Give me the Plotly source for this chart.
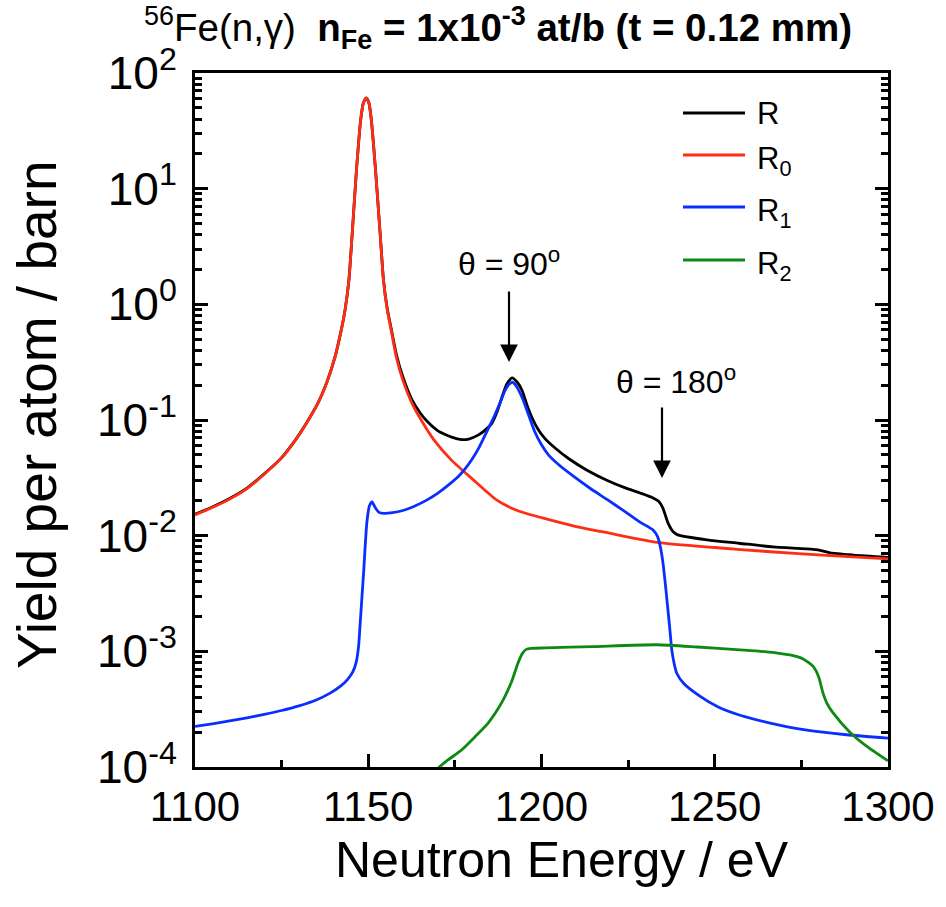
import plotly.graph_objects as go

# ---------------- data ----------------
E_R0 = [1100, 1105, 1110, 1115, 1120, 1125, 1129, 1132, 1135.5, 1138, 1140.4, 1142, 1143.3,
        1144.4, 1145.3, 1146.6, 1147.8, 1148.6, 1149.4, 1150.2, 1150.9, 1152.1, 1153.5,
        1154.4, 1155.5, 1156.8, 1158.1, 1160, 1162.6, 1166, 1169, 1174, 1180, 1187, 1193,
        1200, 1210, 1219, 1234, 1250, 1265, 1281, 1300]
Y_R0 = [0.0151, 0.0175, 0.0207, 0.0255, 0.034, 0.047, 0.067, 0.092, 0.14, 0.21, 0.35, 0.56, 0.89,
        1.6, 3.8, 14.5, 39, 55, 61, 55, 39, 14.5, 3.8,
        1.6, 0.89, 0.56, 0.35, 0.22, 0.14, 0.092, 0.067, 0.045, 0.031, 0.0204, 0.0165,
        0.0143, 0.012, 0.0106, 0.0087, 0.0079, 0.0073, 0.0068, 0.0063]

E_R = [1100, 1105, 1110, 1115, 1120, 1125, 1129, 1132, 1135.5, 1138, 1140.4, 1142, 1143.3,
       1144.4, 1145.3, 1146.6, 1147.8, 1148.6, 1149.4, 1150.2, 1150.9, 1152.1, 1153.5,
       1154.4, 1155.5, 1156.8, 1158.1, 1160, 1162.6, 1165, 1167.2, 1170, 1172.2, 1174.5,
       1176.5, 1179, 1181.7, 1184, 1185.7, 1187.3, 1188.6, 1190, 1191.5, 1193, 1194.4,
       1195.8, 1197.3, 1199, 1201, 1204, 1208, 1213, 1219, 1224, 1228.4, 1232.2, 1233.8,
       1235, 1236.5, 1238, 1239.5, 1247.8, 1257, 1266.8, 1278.4, 1281, 1283.3, 1290, 1300]
Y_R = [0.0153, 0.0177, 0.021, 0.0258, 0.0343, 0.0473, 0.0673, 0.0923, 0.1403, 0.2103, 0.3505, 0.5606, 0.891,
       1.6, 3.8, 14.5, 39, 55, 61, 55, 39, 14.52, 3.82,
       1.62, 0.91, 0.58, 0.37, 0.235, 0.15, 0.115, 0.096, 0.081, 0.075, 0.0705,
       0.068, 0.0685, 0.074, 0.083, 0.094, 0.12, 0.158, 0.205, 0.231, 0.212, 0.18,
       0.135, 0.104, 0.083, 0.069, 0.057, 0.046, 0.037, 0.030, 0.026, 0.0234, 0.0212, 0.0198,
       0.0174, 0.0129, 0.0108, 0.0101, 0.0092, 0.0086, 0.0080, 0.0076, 0.0074, 0.0071, 0.0068, 0.0065]

E_R1 = [1100, 1105, 1110, 1115, 1120, 1125, 1130, 1135, 1139, 1142, 1144, 1145.5, 1146.5, 1147.2, 1147.7,
        1148.2, 1148.7, 1149.1, 1149.6, 1150.3, 1151.1, 1152, 1153, 1154.5, 1157, 1160, 1163,
        1167, 1170, 1173, 1176, 1178, 1180, 1182, 1184, 1186.5, 1188, 1189.5, 1190.6, 1191.6, 1192.8,
        1194.7, 1196.3, 1198, 1200, 1202, 1205, 1209, 1214, 1219, 1224, 1228.4, 1232.2,
        1233.5, 1234.3, 1235, 1235.6, 1236.3, 1237, 1237.6, 1238.3, 1239, 1241, 1245.7, 1251,
        1257.3, 1266, 1276.6, 1288, 1300]
Y_R1 = [2.24e-4, 2.36e-4, 2.5e-4, 2.66e-4, 2.85e-4, 3.08e-4, 3.38e-4, 3.8e-4, 4.35e-4, 5.0e-4, 5.7e-4, 6.6e-4, 8e-4, 1.1e-3, 1.8e-3,
        3e-3, 5e-3, 8e-3, 1.3e-2, 1.8e-2, 0.0196, 0.0175, 0.016, 0.0156, 0.0158, 0.0165, 0.0178,
        0.0204, 0.0232, 0.0272, 0.0325, 0.038, 0.046, 0.058, 0.077, 0.11, 0.14, 0.18, 0.203, 0.212, 0.195,
        0.149, 0.11, 0.08, 0.061, 0.05, 0.041, 0.033, 0.0257, 0.0205, 0.0162, 0.0131, 0.0112,
        0.0098, 0.008, 0.006, 0.0042, 2.6e-3, 1.6e-3, 1.03e-3, 7.8e-4, 6.5e-4, 5.3e-4, 4.1e-4, 3.3e-4,
        2.8e-4, 2.4e-4, 2.08e-4, 1.9e-4, 1.78e-4]

E_R2 = [1168, 1170.5, 1173, 1177, 1181, 1184.6, 1187.5, 1189.5, 1191.5, 1193.2, 1194.5, 1195.6,
        1197, 1201, 1215, 1233.3, 1245, 1257.3, 1265, 1271.7, 1275.5, 1278.4, 1280, 1281.2,
        1282.5, 1284.1, 1289, 1294, 1300]
Y_R2 = [8.5e-5, 1.0e-4, 1.15e-4, 1.41e-4, 1.85e-4, 2.4e-4, 3.2e-4, 4.1e-4, 5.6e-4, 7.9e-4, 9.6e-4, 1.04e-3,
        1.06e-3, 1.07e-3, 1.1e-3, 1.14e-3, 1.09e-3, 1.03e-3, 9.9e-4, 9.3e-4, 8.6e-4, 7.4e-4, 6e-4, 4.4e-4,
        3.5e-4, 2.95e-4, 2.0e-4, 1.5e-4, 1.13e-4]

SERIES_NAMES = ["R", "R<sub>0</sub>", "R<sub>1</sub>", "R<sub>2</sub>"]
SERIES_COLORS = ["#000000", "#FF2D16", "#0A2EFF", "#0E8A12"]

X_TICKS = [1100, 1150, 1200, 1250, 1300]
Y_TICK_EXP = [-4, -3, -2, -1, 0, 1, 2]

# ---------------- figure ----------------
FONT = "Liberation Sans, Arial, sans-serif"

fig = go.Figure()
for xs, ys, name, col in zip([E_R, E_R0, E_R1, E_R2], [Y_R, Y_R0, Y_R1, Y_R2], SERIES_NAMES, SERIES_COLORS):
    fig.add_trace(go.Scatter(x=xs, y=ys, mode="lines", name=name,
                             line=dict(color=col, width=2.8, shape="spline", smoothing=0.6),
                             showlegend=False))

minor_y = [m * 10.0 ** e for e in Y_TICK_EXP[:-1] for m in range(2, 10)]

L, R, T, B = 195, 58, 73, 140
W, H = 946, 907
pw, ph = W - L - R, H - T - B

def px(xp):
    return (xp - L) / pw

def py(yp):
    return (H - B - yp) / ph

fig.update_layout(
    width=W, height=H,
    margin=dict(l=L, r=R, t=T, b=B),
    paper_bgcolor="white", plot_bgcolor="white",
    font=dict(family=FONT, color="black"),
    showlegend=False,
    xaxis=dict(range=[1100, 1300], showgrid=False, zeroline=False,
               showline=True, linecolor="black", linewidth=3, mirror=True,
               ticks="inside", ticklen=13, tickwidth=3, tickcolor="black",
               tickvals=X_TICKS, ticktext=[str(v) for v in X_TICKS],
               tickfont=dict(size=42, family=FONT),
               ticklabelstandoff=1,
               minor=dict(ticks="inside", ticklen=7, tickwidth=3, tickcolor="black",
                          dtick=25, showgrid=False)),
    yaxis=dict(type="log", range=[-4, 2], showgrid=False, zeroline=False,
               showline=True, linecolor="black", linewidth=3, mirror="ticks",
               ticks="inside", ticklen=13, tickwidth=3, tickcolor="black",
               tickvals=[10.0 ** e for e in Y_TICK_EXP],
               ticktext=["10<sup>%d</sup>" % e for e in Y_TICK_EXP],
               tickfont=dict(size=46, family=FONT),
               ticklabelstandoff=6,
               minor=dict(ticks="inside", ticklen=7, tickwidth=2.5, tickcolor="black",
                          tickvals=minor_y, showgrid=False)),
)

ann = []
# title
ann.append(dict(xref="paper", yref="paper", x=px(498), y=py(28), xanchor="center", yanchor="middle",
                text="<sup>56</sup>Fe(n,γ)  <b>n<sub>Fe</sub> = 1x10<sup>-3</sup> at/b (t = 0.12 mm)</b>",
                showarrow=False, font=dict(size=38.5, family=FONT)))
# axis titles
ann.append(dict(xref="paper", yref="paper", x=px(562), y=py(860), xanchor="center", yanchor="middle",
                text="Neutron Energy / eV", showarrow=False, font=dict(size=50, family=FONT)))
ann.append(dict(xref="paper", yref="paper", x=px(37), y=py(415), xanchor="center", yanchor="middle",
                text="Yield per atom / barn", textangle=-90, showarrow=False, font=dict(size=55, family=FONT)))
# theta labels
ann.append(dict(xref="paper", yref="paper", x=px(509), y=py(262), xanchor="center", yanchor="middle",
                text="θ = 90<sup>o</sup>", showarrow=False, font=dict(size=32, family=FONT)))
ann.append(dict(xref="paper", yref="paper", x=px(676), y=py(380), xanchor="center", yanchor="middle",
                text="θ = 180<sup>o</sup>", showarrow=False, font=dict(size=32, family=FONT)))
# arrows
for xa, ytip in [(509, 362), (662, 478)]:
    ann.append(dict(xref="paper", yref="paper", x=px(xa), y=py(ytip), ax=0, ay=-72, text="",
                    showarrow=True, arrowhead=2, arrowsize=1.6, arrowwidth=2.2, arrowcolor="black",
                    standoff=0))
# manual legend
legend_y = [113, 155, 207, 260]
shapes = []
for yy, name, col in zip(legend_y, SERIES_NAMES, SERIES_COLORS):
    shapes.append(dict(type="line", xref="paper", yref="paper", x0=px(683), x1=px(745),
                       y0=py(yy), y1=py(yy), line=dict(color=col, width=2.8)))
    ann.append(dict(xref="paper", yref="paper", x=px(755), y=py(yy), xanchor="left",
                    yanchor="middle", text=name, showarrow=False,
                    yshift=(0 if name == "R" else -6),
                    font=dict(size=31, family=FONT)))

fig.update_layout(annotations=ann, shapes=shapes)
fig.write_html("out.html")
